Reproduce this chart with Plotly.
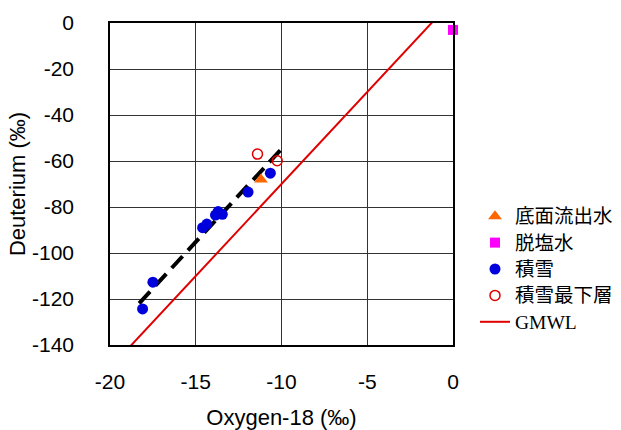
import plotly.graph_objects as go

# Data
outflow_o18 = [-11.2]
outflow_d = [-68.0]

desal_o18 = [0.0]
desal_d = [-3.0]

snow_o18 = [-18.1, -17.5, -14.6, -14.35, -13.85, -13.7, -13.45, -11.95, -10.65]
snow_d = [-124.3, -112.7, -89.0, -87.4, -83.5, -82.0, -83.2, -73.5, -65.3]

bottom_o18 = [-11.4, -10.25]
bottom_d = [-57.0, -59.9]

# GMWL: dD = 8 * d18O + 10
gmwl_x = [-20.0, 0.0]
gmwl_slope, gmwl_intercept = 8.0, 10.0

# Fitted trend line of the snow samples
trend_x = [-18.3, -9.96]
trend_slope, trend_intercept = 8.08, 26.0

x_ticks = [-20, -15, -10, -5, 0]
x_ticktext = ["-20", "-15", "-10", "-5", "0"]
y_ticks = [0, -20, -40, -60, -80, -100, -120, -140]
y_ticktext = ["0", "-20", "-40", "-60", "-80", "-100", "-120", "-140"]

cjk = "Noto Sans CJK JP"
sans = "Liberation Sans, Arial"


def leg(txt, fam=cjk):
    return f"<span style='font-family:{fam};font-size:19.5px'>{txt}</span>"


fig = go.Figure()

fig.add_trace(go.Scatter(
    x=trend_x, y=[trend_slope * v + trend_intercept for v in trend_x],
    mode="lines", line=dict(color="black", width=4, dash="16px,8px"),
    showlegend=False, hoverinfo="skip"))

fig.add_trace(go.Scatter(
    x=outflow_o18, y=outflow_d, mode="markers", name=leg("底面流出水"),
    marker=dict(symbol="triangle-up", size=12, color="#FF6600")))
fig.add_trace(go.Scatter(
    x=desal_o18, y=desal_d, mode="markers", name=leg("脱塩水"), cliponaxis=False,
    marker=dict(symbol="square", size=10, color="#FF00FF")))
fig.add_trace(go.Scatter(
    x=snow_o18, y=snow_d, mode="markers", name=leg("積雪"),
    marker=dict(symbol="circle", size=11, color="#0000DD")))
fig.add_trace(go.Scatter(
    x=bottom_o18, y=bottom_d, mode="markers", name=leg("積雪最下層"),
    marker=dict(symbol="circle-open", size=10, color="#E00000",
                line=dict(width=1.5, color="#E00000"))))
fig.add_trace(go.Scatter(
    x=gmwl_x, y=[gmwl_slope * v + gmwl_intercept for v in gmwl_x],
    mode="lines", name=leg("GMWL", "Liberation Serif"),
    line=dict(color="#E00000", width=2)))

axis_common = dict(
    showline=True, linecolor="black", linewidth=1.5, mirror=True,
    showgrid=True, gridcolor="#333333", gridwidth=1, zeroline=False,
    ticks="outside", tickcolor="rgba(0,0,0,0)", automargin=False,
    tickfont=dict(family=sans, size=21, color="black"),
)

fig.update_xaxes(range=[-20, 0], tickvals=x_ticks, ticktext=x_ticktext, ticklen=17,
                 title=dict(text="Oxygen-18 (‰)", standoff=18,
                            font=dict(family=sans, size=22, color="black")),
                 **axis_common)
fig.update_yaxes(range=[-140, 0], tickvals=y_ticks, ticktext=y_ticktext, ticklen=30,
                 title=dict(text="Deuterium (‰)", standoff=0,
                            font=dict(family=sans, size=22, color="black")),
                 **axis_common)

fig.update_layout(
    width=621, height=430,
    margin=dict(l=110, r=168, t=23, b=85, autoexpand=False),
    paper_bgcolor="white", plot_bgcolor="white",
    font=dict(family=cjk, color="black"),
    legend=dict(xref="container", yref="container",
                x=475 / 621, y=1 - 198 / 430, xanchor="left", yanchor="top",
                font=dict(family=cjk, size=18, color="black"),
                itemwidth=30, tracegroupgap=0, bgcolor="rgba(0,0,0,0)"),
    showlegend=True,
)

fig.write_html("out.html", config={"displayModeBar": False},
               post_script="document.body.style.margin='0';document.body.style.overflow='hidden';")
